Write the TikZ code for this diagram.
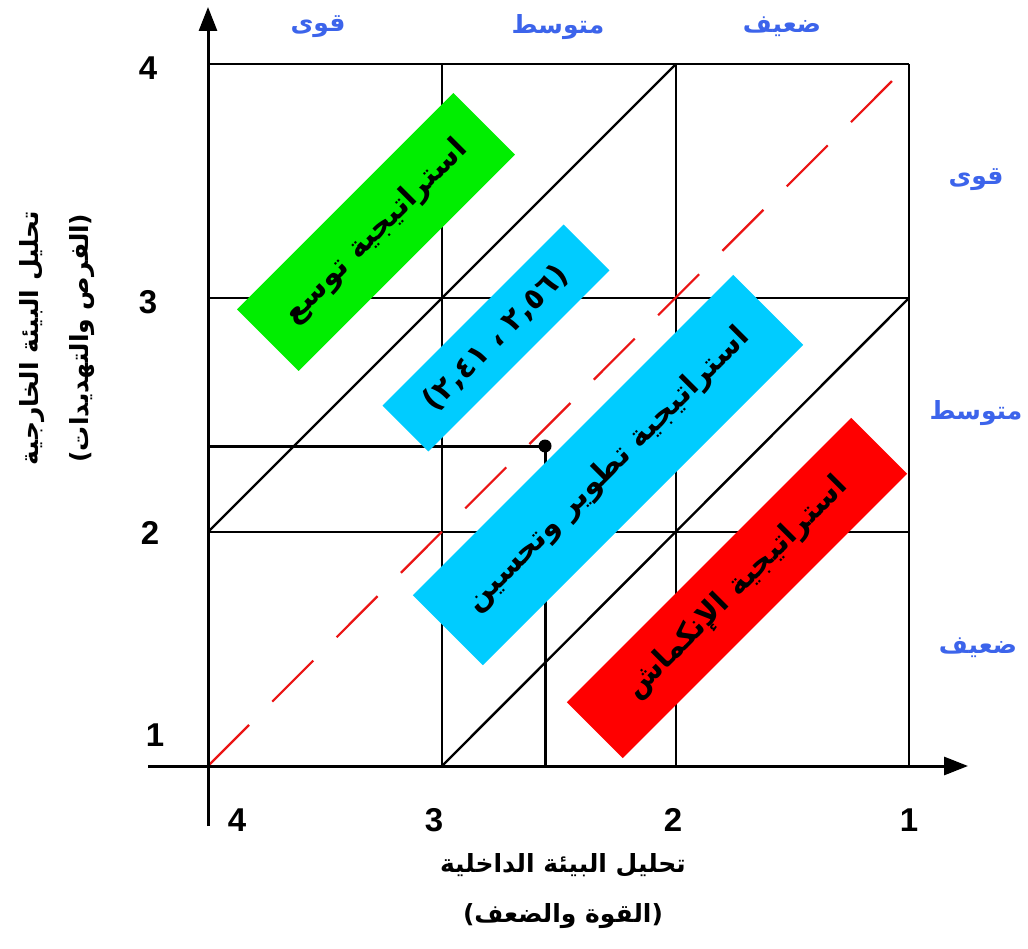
\documentclass[tikz,border=0pt]{standalone}
\usepackage{fontspec}
\usetikzlibrary{arrows.meta}
\TeXXeTstate=1
\newfontfamily\arabicfont[Script=Arabic]{DejaVu Sans}
\newfontfamily\numfont{Liberation Sans}
\definecolor{boxgreen}{RGB}{0,238,0}
\definecolor{boxblue}{RGB}{0,204,255}
\definecolor{boxred}{RGB}{255,0,0}
\definecolor{lblblue}{RGB}{60,100,235}
\definecolor{diagred}{RGB}{235,20,20}
\tikzset{
  gridline/.style={line width=2.4pt, black},
  axisline/.style={line width=3pt, black, -{Triangle[length=24pt,width=18pt]}},
  diagline/.style={line width=2.4pt, black},
  reddash/.style={line width=2.2pt, diagred, dash pattern=on 58pt off 33pt},
  markline/.style={line width=3pt, black},
  dotmark/.style={circle, fill=black, minimum size=13pt, inner sep=0pt},
  stratbox/.style={rotate=45, inner sep=0pt, text=black, font=\arabicfont\bfseries\fontsize{30}{36}\selectfont},
  numlbl/.style={font=\numfont\bfseries\fontsize{33}{38}\selectfont, text=black},
  levellbl/.style={font=\arabicfont\bfseries\fontsize{25}{30}\selectfont, text=lblblue},
  axislbl/.style={font=\arabicfont\bfseries\fontsize{25}{50}\selectfont, text=black, align=center}
}
\begin{document}
\begin{tikzpicture}[x=1pt,y=-1pt]
\useasboundingbox (0,0) rectangle (1028,949);
\fill[white] (0,0) rectangle (1028,949);
% coordinates
\coordinate (yTop) at (208,7);
\coordinate (yBot) at (208,826);
\coordinate (xLeft) at (148,766);
\coordinate (xRight) at (968,766);
\coordinate (O) at (208,766);
\coordinate (TR) at (909,64);
\coordinate (D1a) at (208,532);
\coordinate (D1b) at (676,64);
\coordinate (D2a) at (442,766);
\coordinate (D2b) at (909,298);
\coordinate (Pleft) at (208,446);
\coordinate (Pfoot) at (545,766);
% grid
\foreach \yy in {64,298,532} \draw[gridline] (208,\yy) -- (909,\yy);
\foreach \xx in {442,676,909} \draw[gridline] (\xx,64) -- (\xx,766);
% diagonals
\draw[diagline] (D1a) -- (D1b);
\draw[diagline] (D2a) -- (D2b);
\draw[reddash] (O) -- (TR);
% axes
\draw[axisline] (yBot) -- (yTop);
\draw[axisline] (xLeft) -- (xRight);
% point
\node[dotmark] (P) at (545,446) {};
\draw[markline] (Pleft) -- (P.center);
\draw[markline] (P.center) -- (Pfoot);
% strategy boxes
\node[stratbox, fill=boxgreen, minimum width=306pt, minimum height=87pt] (grow) at (376,232) {\beginR استراتيجية توسع\endR};
\node[stratbox, fill=boxblue, minimum width=256pt, minimum height=65pt] (coord) at (496,338) {\beginR(٢,٥٦ ، ٢,٤١)\endR};
\node[stratbox, fill=boxblue, minimum width=453pt, minimum height=99pt] (devel) at (608,470) {\beginR استراتيجية تطوير وتحسين\endR};
\node[stratbox, fill=boxred, minimum width=402pt, minimum height=79pt] (shrink) at (737,588) {\beginR استراتيجية الإنكماش\endR};
% axis numbers
\node[numlbl] (y4) at (148,68) {4};
\node[numlbl] (y3) at (148,302) {3};
\node[numlbl] (y2) at (150,533) {2};
\node[numlbl] (y1) at (155,735) {1};
\node[numlbl] (x4) at (237,820) {4};
\node[numlbl] (x3) at (434,820) {3};
\node[numlbl] (x2) at (673,820) {2};
\node[numlbl] (x1) at (909,820) {1};
% level labels
\node[levellbl] (tStrong) at (318,27) {\beginR قوى\endR};
\node[levellbl] (tMid) at (558,27) {\beginR متوسط\endR};
\node[levellbl] (tWeak) at (782,27) {\beginR ضعيف\endR};
\node[levellbl] (rStrong) at (976,180) {\beginR قوى\endR};
\node[levellbl] (rMid) at (976,413) {\beginR متوسط\endR};
\node[levellbl] (rWeak) at (978,648) {\beginR ضعيف\endR};
% axis titles
\node[axislbl, rotate=90] (ytitle) at (57,338) {\beginR تحليل البيئة الخارجية\endR\\\beginR (الفرص والتهديدات)\endR};
\node[axislbl] (xtitle) at (563,891) {\beginR تحليل البيئة الداخلية\endR\\\beginR (القوة والضعف)\endR};
\end{tikzpicture}
\end{document}
